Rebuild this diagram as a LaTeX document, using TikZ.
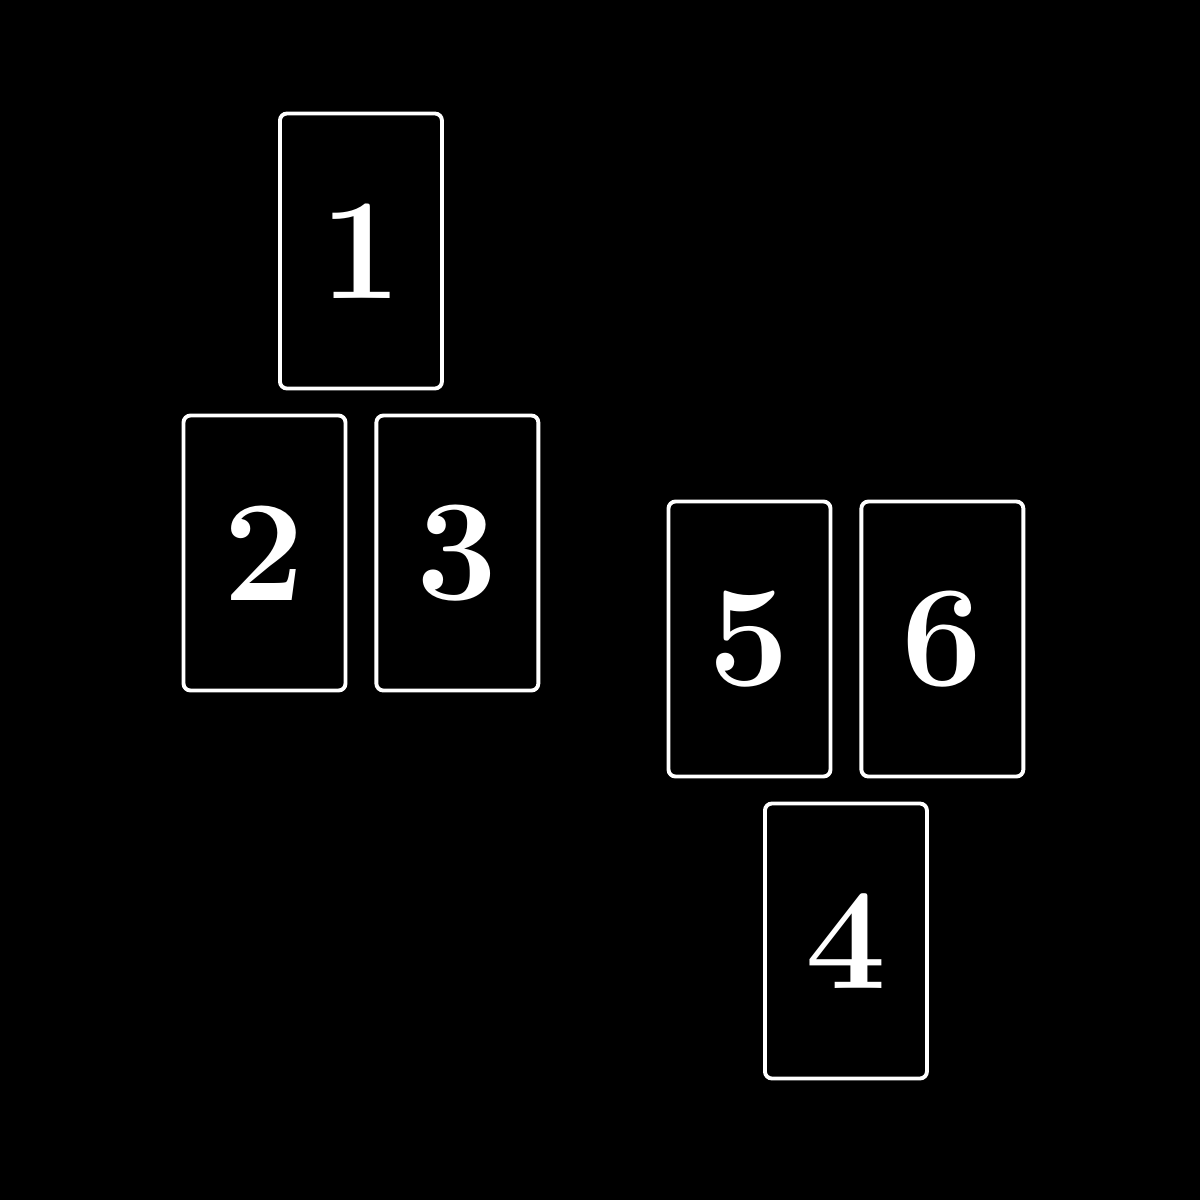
\documentclass[tikz,border=0pt]{standalone}
\usepackage{tikz}
\usetikzlibrary{calc}
\usetikzlibrary{positioning}
\tikzstyle{card} = [draw=white, line width=1.1pt, rounded corners=0.07cm,
    minimum width=1.62cm, minimum height=2.75cm, inner sep=0pt,
    text=white, font=\fontsize{41}{41}\selectfont\bfseries]
\begin{document}
\begin{tikzpicture}[node distance=0.27cm]

    \useasboundingbox (0,0) rectangle (12,-12);
    \fill[black] (0,0) rectangle (12,-12);

    % first spread
    \node[card] at (2.645,-5.53) (card2) {2};
    \node[card, right=of card2] (card3) {3};
    \node[card] at ($(card2)!0.5!(card3)+(0,3.02)$) (card1) {1};

    % second spread
    \node[card] at (7.495,-6.39) (card5) {5};
    \node[card, right=of card5] (card6) {6};
    \node[card] at ($(card5)!0.5!(card6)+(0,-3.02)$) (card4) {4};

\end{tikzpicture}
\end{document}
